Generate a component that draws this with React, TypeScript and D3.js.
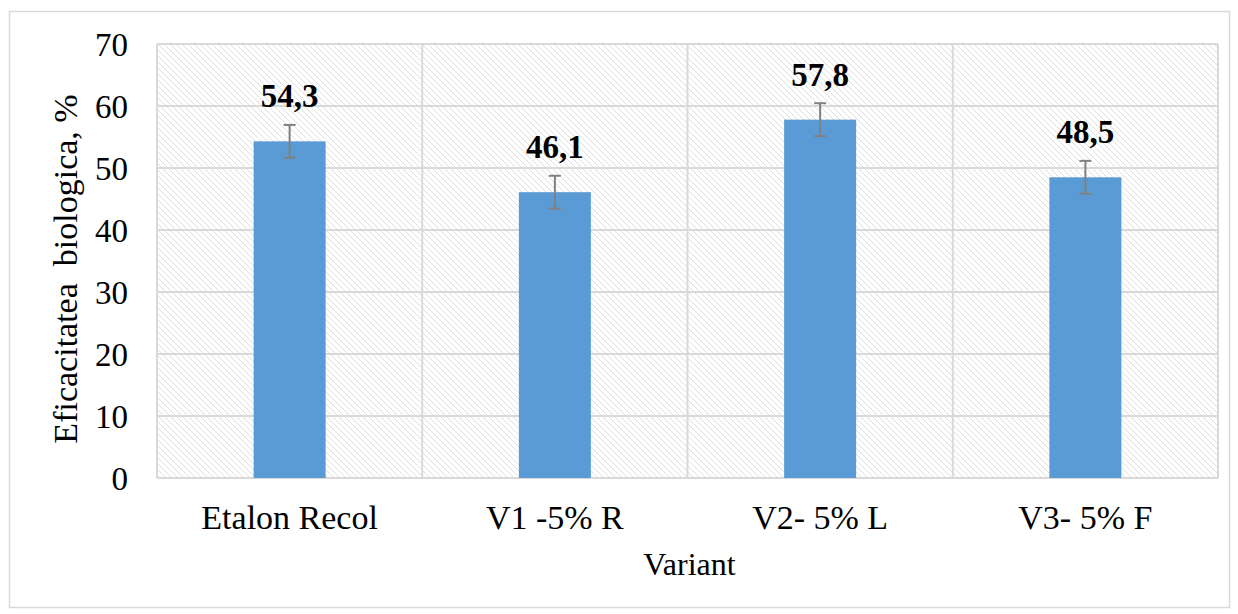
import React from "react";
import * as d3 from "d3";

const categories = ["Etalon Recol", "V1 -5% R", "V2- 5% L", "V3- 5% F"];
const values = [54.3, 46.1, 57.8, 48.5];
const labels = ["54,3", "46,1", "57,8", "48,5"];
const errors = [2.65, 2.65, 2.65, 2.65];
const yTicks = [0, 10, 20, 30, 40, 50, 60, 70];

const W = 1238;
const H = 614;
const margin = { left: 157, right: 20, top: 44, bottom: 136 };

export default function App() {
  const x = d3
    .scaleBand<string>()
    .domain(categories)
    .range([margin.left, W - margin.right])
    .paddingInner(0)
    .paddingOuter(0);
  const y = d3.scaleLinear().domain([0, 70]).range([H - margin.bottom, margin.top]);
  const barW = 72;
  const font = "'Liberation Serif', 'Times New Roman', serif";
  const x0 = margin.left;
  const x1 = W - margin.right;
  const y0 = y(0);
  const y1 = y(70);

  return (
    <svg
      width={W}
      height={H}
      style={{ position: "absolute", left: 0, top: 0, background: "#fff" }}
    >
      <defs>
        <pattern id="hatch" width={6} height={6} patternUnits="userSpaceOnUse">
          <path d="M-1,-1 L7,7 M-1,5 L1,7 M5,-1 L7,1" stroke="#dedede" strokeWidth={1} />
        </pattern>
      </defs>
      <rect x={9.5} y={11.5} width={1220} height={596} fill="#fff" stroke="#d9d9d9" strokeWidth={1.5} />
      <rect x={x0} y={y1} width={x1 - x0} height={y0 - y1} fill="url(#hatch)" />
      {yTicks.map((t) => (
        <line key={"g" + t} x1={x0} x2={x1} y1={y(t)} y2={y(t)} stroke="#d9d9d9" strokeWidth={2} />
      ))}
      {categories.map((c, i) =>
        i > 0 ? (
          <line key={"v" + c} x1={x(c)!} x2={x(c)!} y1={y1} y2={y0} stroke="#d9d9d9" strokeWidth={2} />
        ) : null
      )}
      <line x1={x0} x2={x0} y1={y1} y2={y0} stroke="#d9d9d9" strokeWidth={2} />
      <line x1={x1} x2={x1} y1={y1} y2={y0} stroke="#d9d9d9" strokeWidth={2} />
      {categories.map((c, i) => {
        const cx = x(c)! + x.bandwidth() / 2;
        return (
          <g key={c}>
            <rect x={cx - barW / 2} y={y(values[i])} width={barW} height={y(0) - y(values[i])} fill="#5b9bd5" />
            <g stroke="#808080" strokeWidth={2}>
              <line x1={cx} x2={cx} y1={y(values[i] - errors[i])} y2={y(values[i] + errors[i])} />
              <line x1={cx - 6} x2={cx + 6} y1={y(values[i] - errors[i])} y2={y(values[i] - errors[i])} />
              <line x1={cx - 6} x2={cx + 6} y1={y(values[i] + errors[i])} y2={y(values[i] + errors[i])} />
            </g>
            <text
              x={cx}
              y={y(values[i]) - 34}
              textAnchor="middle"
              fontFamily={font}
              fontWeight="bold"
              fontSize={33}
              fill="#000"
            >
              {labels[i]}
            </text>
            <text x={cx} y={y0 + 51} textAnchor="middle" fontFamily={font} fontSize={34} fill="#000">
              {c}
            </text>
          </g>
        );
      })}
      {yTicks.map((t) => (
        <text
          key={"t" + t}
          x={128}
          y={y(t)}
          dy="0.35em"
          textAnchor="end"
          fontFamily={font}
          fontSize={33}
          fill="#000"
        >
          {t}
        </text>
      ))}
      <text
        transform={`translate(77, ${(y0 + y1) / 2 + 8}) rotate(-90)`}
        textAnchor="middle"
        fontFamily={font}
        fontSize={34}
        fill="#000"
        style={{ whiteSpace: "pre" }}
      >
        {"Eficacitatea  biologica, %"}
      </text>
      <text x={(x0 + x1) / 2 + 2} y={575} textAnchor="middle" fontFamily={font} fontSize={32} fill="#000">
        Variant
      </text>
    </svg>
  );
}
